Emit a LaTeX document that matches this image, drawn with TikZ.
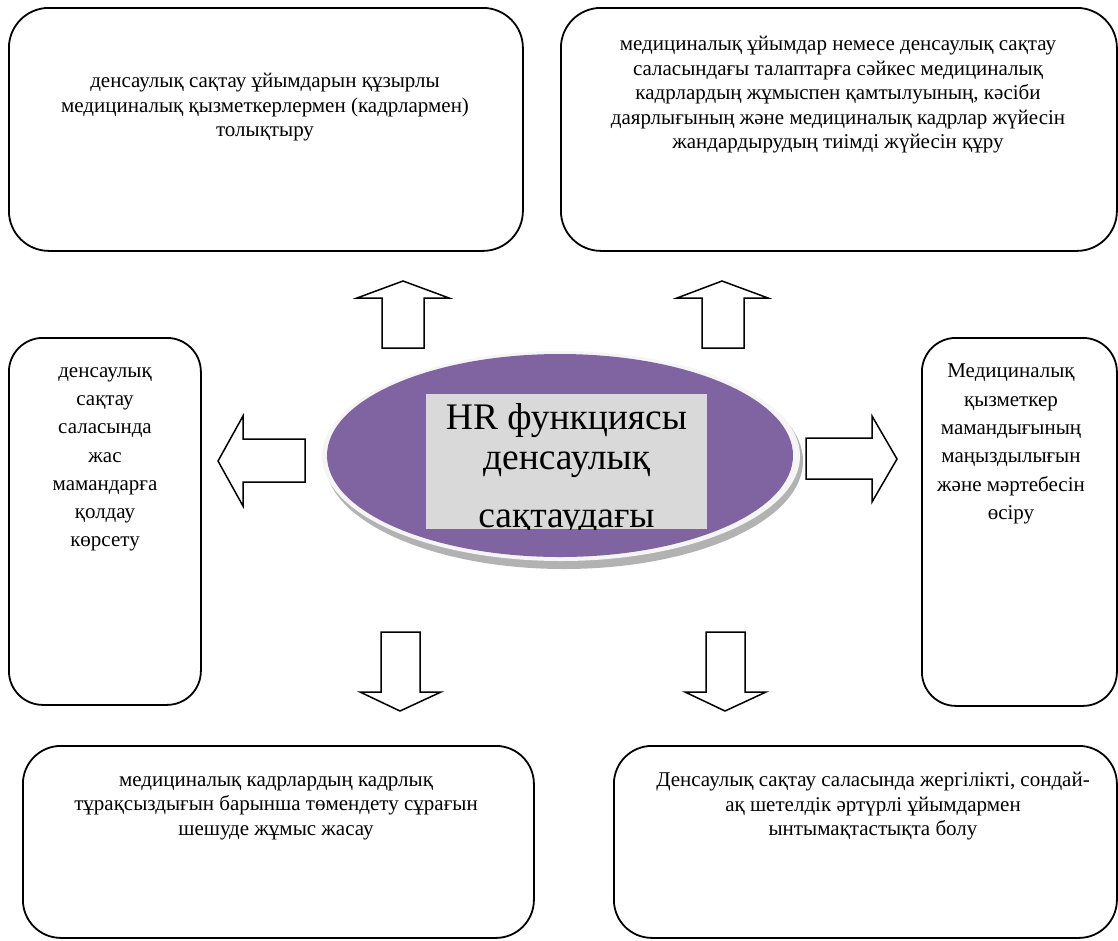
\documentclass[tikz,border=0pt]{standalone}
\usepackage{fontspec}
\setmainfont{Liberation Serif}
\usetikzlibrary{shapes.geometric}
\definecolor{hrpurple}{HTML}{8064A2}
\definecolor{hrgrey}{HTML}{D9D9D9}
\begin{document}
\begin{tikzpicture}[x=1pt,y=-1pt,
  box/.style={draw=black, line width=1.8pt, fill=white, anchor=north west, inner sep=0pt},
  txt/.style={font=\fontsize{21}{24.5}\selectfont, align=center, anchor=north, inner sep=0pt},
  sidetxt/.style={font=\fontsize{21}{28.3}\selectfont, align=center, anchor=north, inner sep=0pt},
  blockarrow/.style={draw=black, line width=1.5pt, fill=white, line join=miter}]
\useasboundingbox (0,0) rectangle (1118,940);

% boxes
\node[box, rounded corners=40pt, minimum width=514pt, minimum height=243pt] (tl) at (8,7) {};
\node[box, rounded corners=40pt, minimum width=556pt, minimum height=243pt] (tr) at (560,7) {};
\node[box, rounded corners=34pt, minimum width=192pt, minimum height=367pt] (lf) at (8,337) {};
\node[box, rounded corners=34pt, minimum width=195pt, minimum height=368pt] (rt) at (921,337) {};
\node[box, rounded corners=38pt, minimum width=511pt, minimum height=192pt] (bl) at (22,745) {};
\node[box, rounded corners=38pt, minimum width=503pt, minimum height=192pt] (br) at (613,745) {};

% texts
\node[txt] (tltxt) at (265,73) {денсаулық сақтау ұйымдарын құзырлы\\медициналық қызметкерлермен (кадрлармен)\\толықтыру};
\node[txt] (trtxt) at (838,36) {медициналық ұйымдар немесе денсаулық сақтау\\саласындағы талаптарға сәйкес медициналық\\кадрлардың жұмыспен қамтылуының, кәсіби\\даярлығының және медициналық кадрлар жүйесін\\жандардырудың тиімді жүйесін құру};
\node[sidetxt] (lftxt) at (105,367) {денсаулық\\сақтау\\саласында\\жас\\мамандарға\\қолдау\\көрсету};
\node[sidetxt] (rttxt) at (1011,364) {Медициналық\\қызметкер\\мамандығының\\маңыздылығын\\және мәртебесін\\өсіру};
\node[txt] (bltxt) at (276,776) {медициналық кадрлардың кадрлық\\тұрақсыздығын барынша төмендету сұрағын\\шешуде жұмыс жасау};
\node[txt] (brtxt) at (873,772) {Денсаулық сақтау саласында жергілікті, сондай-\\ақ шетелдік әртүрлі ұйымдармен\\ынтымақтастықта болу};

% central ellipse
\node[ellipse, fill=gray!60, minimum width=478pt, minimum height=216pt, inner sep=0pt] (hubshadow) at (564,461) {};
\node[ellipse, fill=gray!8, minimum width=478pt, minimum height=210pt, inner sep=0pt] (hubrim) at (561,456) {};
\node[ellipse, fill=hrpurple, minimum width=466pt, minimum height=203pt, inner sep=0pt] (hub) at (560,455.5) {};
\node[fill=hrgrey, minimum width=281pt, minimum height=135pt, inner sep=0pt] (titlebox) at (566.5,461.5) {};
\begin{scope}
\clip (titlebox.south west) rectangle (titlebox.north east);
\node[font=\fontsize{37.5}{40}\selectfont, align=center, anchor=north, inner sep=0pt] (title) at (566.5,403) {HR функциясы\\денсаулық\\[18pt]сақтаудағы};
\end{scope}

% block arrows
\draw[blockarrow] (382,348) -- (382,298) -- (357,298) -- (403,281) -- (449,298) -- (424,298) -- (424,348) -- cycle;
\draw[blockarrow] (702,348) -- (702,298) -- (677,298) -- (722,281) -- (768,298) -- (744,298) -- (744,348) -- cycle;
\draw[blockarrow] (305,439) -- (243,439) -- (243,416) -- (218,461) -- (243,506) -- (243,482) -- (305,482) -- cycle;
\draw[blockarrow] (806,438) -- (872,438) -- (872,416) -- (897,459) -- (872,502) -- (872,479) -- (806,479) -- cycle;
\draw[blockarrow] (381,632) -- (420,632) -- (420,692) -- (441,692) -- (400,711) -- (360,692) -- (381,692) -- cycle;
\draw[blockarrow] (706,632) -- (745,632) -- (745,692) -- (766,692) -- (725,711) -- (685,692) -- (706,692) -- cycle;
\end{tikzpicture}
\end{document}
